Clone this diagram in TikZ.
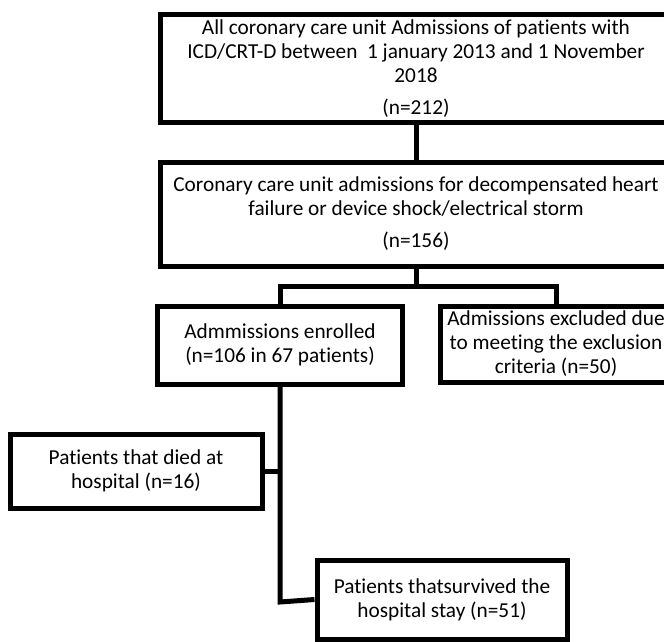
\documentclass[tikz,border=0pt]{standalone}
\usepackage{fontspec}
\setmainfont{Carlito}[Ligatures={NoCommon,NoContextual,NoRequired}]
\usetikzlibrary{positioning}

\begin{document}
\begin{tikzpicture}[x=1pt, y=-1pt, line width=5pt,
  box/.style={draw, line width=5pt, align=center, inner sep=0pt,
    font=\fontsize{21.3}{24}\selectfont}]
  \clip (0,0) rectangle (664,642);

  \node[box, minimum width=512, minimum height=107] (all) at (416,68.5)
    {All coronary care unit Admissions of patients with\\
     ICD/CRT-D between~ 1 january 2013 and 1 November\\
     2018\\[8pt] (n=212)};
  \node[box, minimum width=512, minimum height=104] (ccu) at (416,214)
    {Coronary care unit admissions for decompensated heart\\
     failure or device shock/electrical storm\\[8pt] (n=156)};
  \node[box, minimum width=245, minimum height=78] (enrolled) at (280,345)
    {Admmissions enrolled\\ (n=106 in 67 patients)};
  \node[box, minimum width=232, minimum height=76] (excluded) at (556,344)
    {Admissions excluded due\\ to meeting the exclusion\\ criteria (n=50)};
  \node[box, minimum width=252, minimum height=74] (died) at (136,471)
    {Patients that died at\\ hospital (n=16)};
  \node[box, minimum width=250, minimum height=79] (survived) at (442,599.5)
    {Patients thatsurvived the\\ hospital stay (n=51)};

  \coordinate (split) at (416,286);
  \coordinate (outcome) at (280,602);

  \draw (all) -- (ccu);
  \draw (ccu) -- (split);
  \draw (split) -| (enrolled.north);
  \draw (split) -| (excluded.north);
  \draw (enrolled) -- (outcome) -- (survived.west);
  \draw (died.east) -- (died.east -| enrolled);
\end{tikzpicture}
\end{document}
